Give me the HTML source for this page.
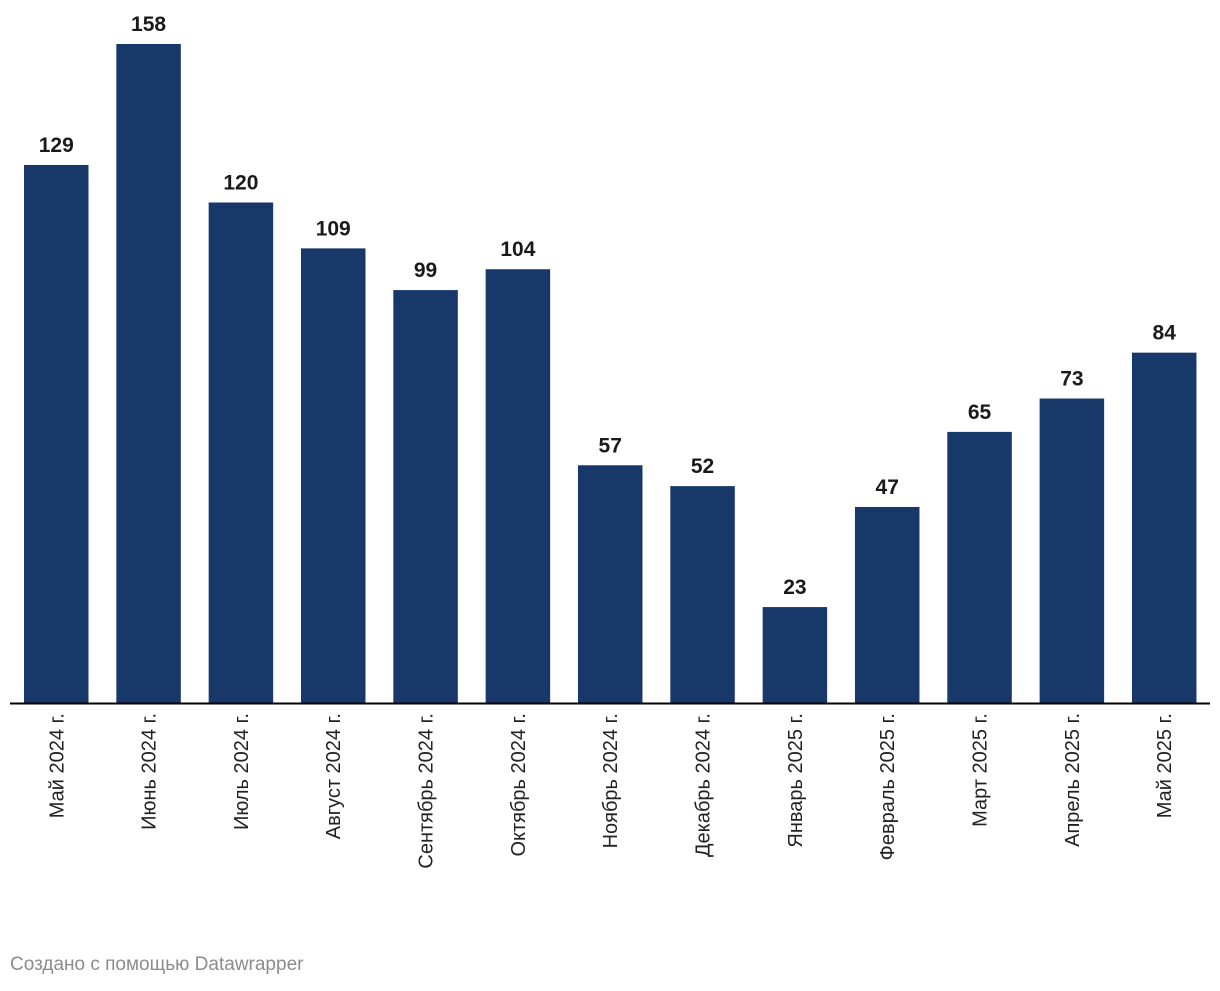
<!DOCTYPE html>
<html><head><meta charset="utf-8"><style>
body{margin:0;background:#fff;width:1220px;height:986px;overflow:hidden;font-family:"Liberation Sans",sans-serif}
</style></head><body>
<svg id="chart" width="1220" height="986" xmlns="http://www.w3.org/2000/svg">
<g id="bars"></g>
<g id="xlabels"></g>
<line x1="10" x2="1210" y1="703.5" y2="703.5" stroke="#000" stroke-width="2"/>
<text x="10" y="970" font-size="19" fill="#8c8c8c">Создано с помощью Datawrapper</text>
</svg>
<script>
const categories=["Май 2024 г.","Июнь 2024 г.","Июль 2024 г.","Август 2024 г.","Сентябрь 2024 г.","Октябрь 2024 г.","Ноябрь 2024 г.","Декабрь 2024 г.","Январь 2025 г.","Февраль 2025 г.","Март 2025 г.","Апрель 2025 г.","Май 2025 г."];
const values=[129,158,120,109,99,104,57,52,23,47,65,73,84];
const NS="http://www.w3.org/2000/svg";
const baseY=703, yMax=158, plotH=659;
const y=v=>baseY-v/yMax*plotH;
const step=92.33, bw=64.5, x0=24;
const x=i=>x0+i*step;
const gb=document.getElementById('bars'), gl=document.getElementById('xlabels');
values.forEach((v,i)=>{
  const r=document.createElementNS(NS,'rect');
  r.setAttribute('x',x(i));r.setAttribute('y',y(v));r.setAttribute('width',bw);r.setAttribute('height',baseY-y(v));r.setAttribute('fill','#183869');
  
  
  gb.appendChild(r);
  const t=document.createElementNS(NS,'text');
  t.setAttribute('x',x(i)+bw/2);t.setAttribute('y',y(v)-13);t.setAttribute('text-anchor','middle');t.setAttribute('font-size','21');t.setAttribute('font-weight','bold');t.setAttribute('fill','#1a1a1a');
  t.textContent=v;
  
  
  gb.appendChild(t);
  const l=document.createElementNS(NS,'text');
  const cx=x(i)+bw/2+7;
  l.setAttribute('transform','translate('+cx+',713) rotate(-90)');l.setAttribute('text-anchor','end');l.setAttribute('font-size','20');l.setAttribute('fill','#222');
  l.textContent=categories[i];
  
  
  gl.appendChild(l);
});
</script>
</body></html>
